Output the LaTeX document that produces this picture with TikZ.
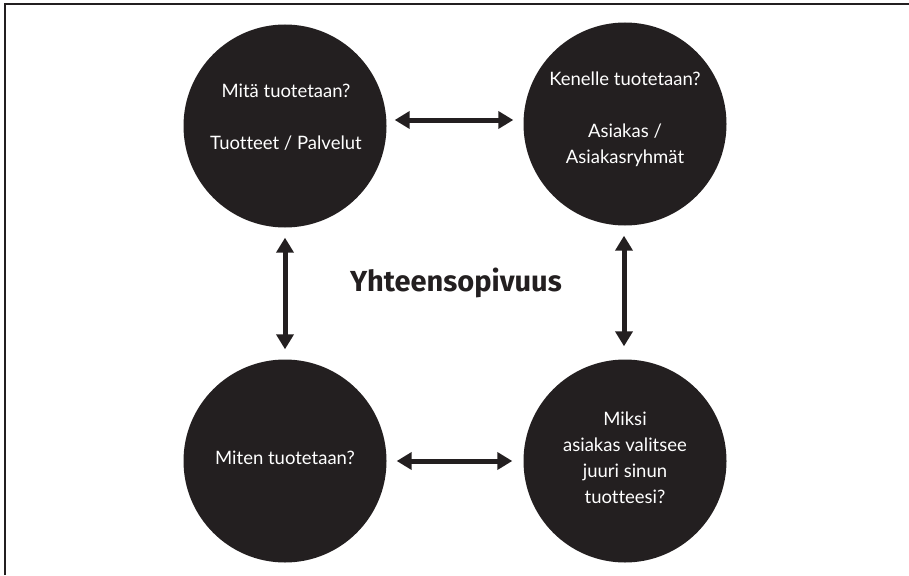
\documentclass[tikz,border=0pt]{standalone}
\usepackage{fontspec}
\setmainfont[Ligatures=NoCommon]{Lato}
\newfontfamily\titlefont{Fira Sans}
\usetikzlibrary{arrows.meta}
\definecolor{ink}{HTML}{231F20}
\tikzset{
  disc/.style={circle, fill=ink, draw=none, minimum size=203pt, inner sep=0pt},
  disctext/.style={text=white, align=center, inner sep=0pt,
    font=\fontsize{18.5}{26}\selectfont},
  dbl/.style={ink, line width=5pt,
    {Triangle[length=15pt,width=17pt]}-{Triangle[length=15pt,width=17pt]}},
  frame/.style={ink, line width=2pt}
}
\begin{document}
\begin{tikzpicture}[x=1pt, y=-1pt]
  \useasboundingbox (0,0) rectangle (909,575);
  % open frame: top and left edges only
  \coordinate (c0) at (5,575);
  \coordinate (c1) at (5,4);
  \coordinate (c2) at (909,4);
  \draw[frame] (c0) -- (c1) -- (c2);

  % the four discs
  \node[disc] (tl) at (285,126) {};
  \node[disc] (tr) at (625,124) {};
  \node[disc] (bl) at (285,461) {};
  \node[disc] (br) at (625,461) {};

  % disc captions
  \node[disctext] (tlt) at (286,117) {Mitä tuotetaan?\\[26pt]Tuotteet / Palvelut};
  \node[disctext] (trt) at (625,119) {Kenelle tuotetaan?\\[26pt]Asiakas /\\Asiakasryhmät};
  \node[disctext] (blt) at (285,458) {Miten tuotetaan?};
  \node[disctext] (brt) at (625,458) {Miksi\\asiakas valitsee\\juuri sinun\\tuotteesi?};

  % centre title
  \node[text=ink, inner sep=0pt, font=\titlefont\bfseries\fontsize{29}{34}\selectfont]
    (title) at (456,283) {Yhteensopivuus};

  % double-headed links between the discs (y axis points down, so a
  % positive yshift lifts a point)
  \draw[dbl] ([xshift=8pt, yshift=6pt]tl.east) -- ([xshift=-10pt, yshift=4pt]tr.west);
  \draw[dbl] ([xshift=10pt]bl.east) -- ([xshift=-11pt]br.west);
  \draw[dbl] ([yshift=-10pt]tl.south) -- ([yshift=10pt]bl.north);
  \draw[dbl] ([xshift=-1pt, yshift=-10pt]tr.south) -- ([xshift=-1pt, yshift=13pt]br.north);
\end{tikzpicture}
\end{document}
